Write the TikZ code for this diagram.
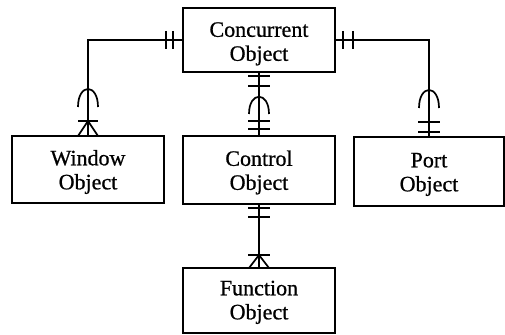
\documentclass[tikz,border=0pt]{standalone}
\usepackage{fontspec}
\setmainfont{Liberation Serif}[FakeBold=0.8]
\newcommand{\twoline}[3][-4pt]{\raisebox{#1}[\height][\depth]{\begin{tabular}{@{}c@{}}#2\\#3\end{tabular}}}
\begin{document}
\begin{tikzpicture}[x=1pt,y=-1pt,
  box/.style={draw,line width=1.7pt,minimum width=152pt,inner sep=0pt,align=center,
    font=\fontsize{22}{24}\selectfont},
  link/.style={line width=1.7pt},
  erm/.style={line width=1.7pt}]
\useasboundingbox (0,0) rectangle (505,334);
\node[box,minimum height=64pt] (cc) at (259,40) {\twoline[-4pt]{Concurrent}{Object}};
\node[box,minimum height=67pt] (win) at (88,169.5) {\twoline[-3pt]{Window}{Object}};
\node[box,minimum height=68pt] (ctl) at (259,170) {\twoline[-3pt]{Control}{Object}};
\node[box,minimum width=150pt,minimum height=69pt] (port) at (429,171.5) {\twoline[-3pt]{Port}{Object}};
\node[box,minimum height=65pt] (fn) at (259,300.5) {\twoline[-2pt]{Function}{Object}};
% connectors
\draw[link] (win.north) |- (cc.west);
\draw[link] (port.north) |- (cc.east);
\draw[link] (cc.south) -- (ctl.north);
\draw[link] (ctl.south) -- (fn.north);
% Window link marks
\draw[erm] (166,31) -- (166,49);
\draw[erm] (173,31) -- (173,49);
\draw[erm] (78,107) .. controls (78,83) and (98,83) .. (98,107);
\draw[erm] (78,121) -- (98,121);
\draw[erm] (78,136) -- (88,121) -- (98,136);
% Port link marks
\draw[erm] (343,31) -- (343,49);
\draw[erm] (353,31) -- (353,49);
\draw[erm] (419,108) .. controls (419,84) and (439,84) .. (439,108);
\draw[erm] (418,122) -- (440,122);
\draw[erm] (418,132) -- (440,132);
% Control link marks
\draw[erm] (248,76) -- (270,76);
\draw[erm] (248,86) -- (270,86);
\draw[erm] (249,114) .. controls (249,91) and (269,91) .. (269,114);
\draw[erm] (248,121) -- (270,121);
\draw[erm] (248,129) -- (270,129);
% Function link marks
\draw[erm] (248,208) -- (270,208);
\draw[erm] (248,217) -- (270,217);
\draw[erm] (248,255) -- (270,255);
\draw[erm] (249,268) -- (259,255) -- (269,268);
\end{tikzpicture}
\end{document}
